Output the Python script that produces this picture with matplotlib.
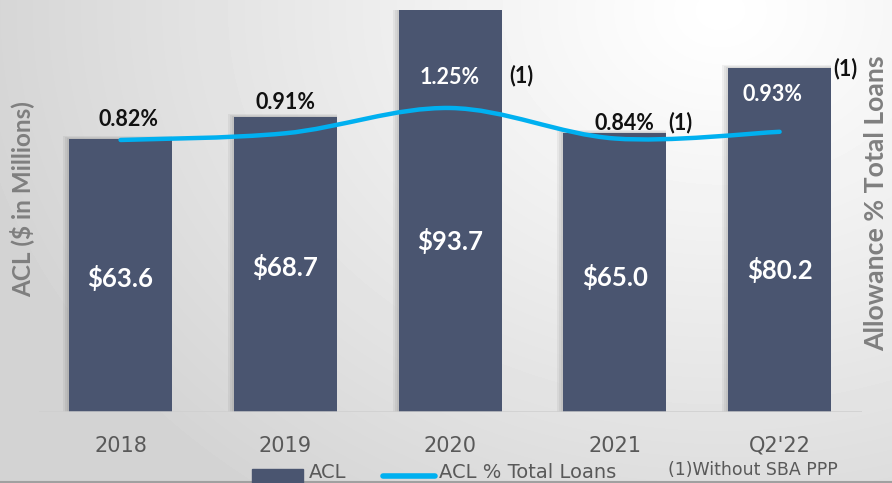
import numpy as np
import matplotlib
matplotlib.use("Agg")
import matplotlib.pyplot as plt
from matplotlib.path import Path
from matplotlib.patches import PathPatch, Rectangle
from matplotlib.lines import Line2D

# chart data
periods = ["2018", "2019", "2020", "2021", "Q2'22"]
acl = [63.6, 68.7, 93.7, 65.0, 80.2]
acl_pct = [0.82, 0.91, 1.25, 0.84, 0.93]
footnote = [False, False, True, True, True]

BAR_C = "#4a5570"
LINE_C = "#00b0f0"
GRAY = "#7f7f7f"
TICK_C = "#595959"

fig = plt.figure(figsize=(8.92, 4.83), dpi=100)

# slide background gradient
H, W = 483, 892
yy, xx = np.mgrid[0:H, 0:W]
d = np.hypot(xx - 720, (yy - 10) * 1.25) / 760
g = 1 - 0.17 * np.clip(d, 0, 1) ** 1.1
bg = fig.add_axes([0, 0, 1, 1], zorder=-10)
bg.imshow(g, cmap="gray", vmin=0, vmax=1, aspect="auto", extent=[0, 1, 0, 1])
bg.axis("off")
bg.plot([0, 1], [0.002, 0.002], color="#a0a0a0", lw=1.5)
bg.set_xlim(0, 1)
bg.set_ylim(0, 1)

ax = fig.add_axes([39 / W, 1 - 412 / H, (862 - 39) / W, (412 - 10) / H])
ax.patch.set_alpha(0)
x = np.arange(len(periods))
w = 0.625

# soft shadow on the left/top of the bars
for k in range(1, 4):
    dx = k * 2 / 164.75
    ax.bar(x - w / 2 - dx, [v + k * 0.25 for v in acl], width=w + dx, align="edge",
           color="black", alpha=0.05, zorder=1)
ax.bar(x, acl, width=w, color=BAR_C, zorder=2)
ax.axhline(0, color="#cfcfcf", lw=1.8, zorder=3)

ax.set_xlim(-0.495, 4.5)
ax.set_ylim(0, 93.7)
for s in ax.spines.values():
    s.set_visible(False)
ax.set_yticks([])
ax.set_xticks(x)
ax.set_xticklabels(periods, fontsize=15, color=TICK_C, family="DejaVu Sans")
ax.tick_params(axis="x", length=0, pad=17)

value_label_y = [31.2, 33.8, 39.9, 31.5, 33.1]
for xi, v, ly in zip(x, acl, value_label_y):
    ax.text(xi, ly, f"${v:.1f}", ha="center", va="center", color="white",
            fontsize=18.5, fontweight="bold", family="Lato", zorder=5)

# percentage line on a hidden secondary axis
ax2 = ax.twinx()
ax2.set_ylim(-2.836, 2.567)
ax2.axis("off")

pts = np.column_stack([x, acl_pct]).astype(float)
tang = np.zeros_like(pts)
tang[1:-1] = (pts[2:] - pts[:-2]) / 2
tang[0] = (pts[1] - pts[0]) / 2
tang[-1] = (pts[-1] - pts[-2]) / 2
verts = [tuple(pts[0])]
codes = [Path.MOVETO]
for i in range(len(pts) - 1):
    verts += [tuple(pts[i] + tang[i] / 3), tuple(pts[i + 1] - tang[i + 1] / 3), tuple(pts[i + 1])]
    codes += [Path.CURVE4] * 3
ax2.add_patch(PathPatch(Path(verts, codes), facecolor="none", edgecolor=LINE_C,
                        lw=3.2, capstyle="round", zorder=6))

pct_offsets = [(8, 20), (0, 31), (0, 30), (10, 15), (-7, 37)]
pct_colors = ["#111111", "#111111", "white", "#111111", "white"]
note_offsets = [None, None, (71, 32), (65, 16), (66, 63)]
for i, (p, off) in enumerate(zip(acl_pct, pct_offsets)):
    ax2.annotate(f"{p:.2f}%", (x[i], p), xytext=off, textcoords="offset pixels",
                 ha="center", va="center", fontsize=15.5, fontweight="bold", family="Lato",
                 color=pct_colors[i], zorder=7)
    if footnote[i]:
        ax2.annotate("(1)", (x[i], p), xytext=note_offsets[i], textcoords="offset pixels",
                     ha="center", va="center", fontsize=15.5, fontweight="bold", family="Lato",
                     color="#111111", zorder=7, annotation_clip=False)

fig.text(22 / W, 1 - 199 / H, "ACL ($ in Millions)", rotation=90, ha="center", va="center",
         fontsize=17.5, fontweight="bold", color=GRAY, family="Lato")
fig.text(876 / W, 1 - 203 / H, "Allowance % Total Loans", rotation=90, ha="center", va="center",
         fontsize=19.2, fontweight="bold", color=GRAY, family="Lato")

# legend row
fig.patches.append(Rectangle((252 / W, 1 - 483 / H), 51 / W, 14 / H, transform=fig.transFigure,
                             color=BAR_C, zorder=3))
fig.text(309 / W, 1 - 482 / H, "ACL", ha="left", va="bottom", fontsize=14, color=TICK_C)
fig.lines.append(Line2D([383 / W, 435 / W], [1 - 476 / H, 1 - 476 / H], transform=fig.transFigure,
                        color=LINE_C, lw=4, solid_capstyle="round"))
fig.text(439 / W, 1 - 482 / H, "ACL % Total Loans", ha="left", va="bottom", fontsize=14, color=TICK_C)
fig.text(668 / W, 1 - 470 / H, "(1)Without SBA PPP", ha="left", va="center", fontsize=12.5, color=TICK_C)

fig.savefig("out.png", dpi=100)
